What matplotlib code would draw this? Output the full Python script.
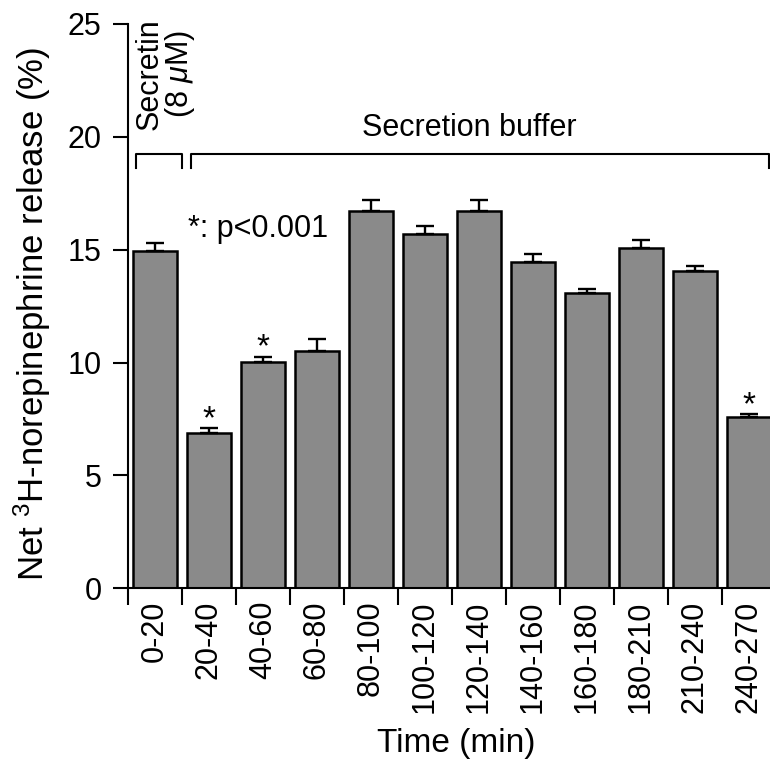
import matplotlib
matplotlib.use("Agg")
import matplotlib.pyplot as plt

plt.rcParams['font.family'] = ['Liberation Sans', 'DejaVu Sans']
plt.rcParams['mathtext.fontset'] = 'custom'
plt.rcParams['mathtext.rm'] = 'Liberation Sans'
plt.rcParams['mathtext.it'] = 'Liberation Sans:italic'

# data
time_labels = ["0-20", "20-40", "40-60", "60-80", "80-100", "100-120",
               "120-140", "140-160", "160-180", "180-210", "210-240", "240-270"]
release = [14.95, 6.87, 10.04, 10.53, 16.73, 15.70, 16.71, 14.44, 13.06, 15.08, 14.05, 7.61]
sem = [0.36, 0.22, 0.22, 0.50, 0.45, 0.34, 0.48, 0.36, 0.22, 0.37, 0.25, 0.10]
significant = [False, True, True, False, False, False, False, False, False, False, False, True]

fig = plt.figure(figsize=(7.7, 7.64), dpi=100)
ax = fig.add_axes([0.1662, 0.23, 0.8338, 0.7386])

x = list(range(len(release)))
ax.bar(x, release, width=0.815, color='#8a8a8a', edgecolor='black', linewidth=1.8, zorder=2)
ax.errorbar(x, release, yerr=[[0] * len(sem), sem], fmt='none', ecolor='black',
            elinewidth=1.7, capsize=6.5, capthick=1.7, zorder=3)

# significance stars
for i in range(len(release)):
    if significant[i]:
        ax.text(i, release[i] + sem[i] + 0.02, "*", ha='center', va='baseline', fontsize=24)

ax.set_xlim(-0.5, 11.39)
ax.set_ylim(0, 25)
ax.set_yticks([0, 5, 10, 15, 20, 25])
ax.tick_params(axis='y', labelsize=22, length=11, width=1.5, pad=8)

# labels under the bars, ticks at the bar boundaries
ax.set_xticks(x)
ax.set_xticklabels(time_labels, rotation=90, fontsize=22)
ax.tick_params(axis='x', which='major', length=0, pad=9)
ax.set_xticks([i - 0.5 for i in range(len(release))], minor=True)
ax.tick_params(axis='x', which='minor', length=12, width=1.5, direction='out')

for side in ['top', 'right']:
    ax.spines[side].set_visible(False)
ax.spines['left'].set_linewidth(1.5)
ax.spines['bottom'].set_linewidth(1.5)

ax.set_ylabel("Net $^{3}$H-norepinephrine release (%)", fontsize=25)
ax.yaxis.set_label_coords(-0.117, 0.486)
ax.set_xlabel("Time (min)", fontsize=24)
ax.xaxis.set_label_coords(0.511, -0.248)

# treatment brackets
ax.plot([-0.35, -0.35, 0.5, 0.5], [18.6, 19.24, 19.24, 18.6], color='black', lw=1.5, clip_on=False)
ax.plot([0.66, 0.66, 11.37, 11.37], [18.6, 19.24, 19.24, 18.6], color='black', lw=1.5, clip_on=False)

ax.text(0.204, 20.3, "Secretin\n(8 $\\mu$M)", rotation=90, ha='center', va='bottom',
        fontsize=22, linespacing=0.95)
ax.text(5.83, 20.05, "Secretion buffer", ha='center', va='baseline', fontsize=22)
ax.text(0.61, 15.57, "*: p<0.001", ha='left', va='baseline', fontsize=22)

plt.savefig("out.png", dpi=100)
